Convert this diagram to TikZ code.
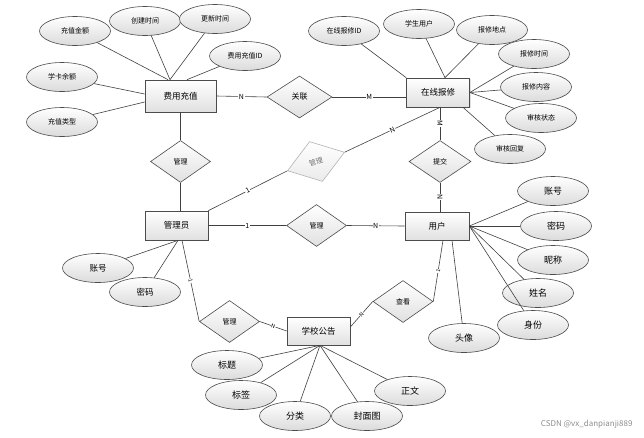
\documentclass[tikz,border=0pt]{standalone}
\usepackage{fontspec}
\setmainfont{Noto Sans CJK SC}
\usetikzlibrary{shapes.geometric,calc,shadows}
\begin{document}
\begin{tikzpicture}[x=1pt,y=-1pt,
  ent/.style={rectangle, draw=black!70, line width=0.7pt, minimum width=63pt, minimum height=29pt, inner sep=0pt,
    top color=white, bottom color=black!12, drop shadow={opacity=0.25, shadow xshift=1pt, shadow yshift=-1pt},
    font=\fontsize{8.5}{9}\selectfont},
  rel/.style={diamond, draw=black!70, line width=0.6pt, minimum width=60pt, minimum height=42pt, inner sep=0pt,
    top color=white, bottom color=black!12, font=\fontsize{7}{8}\selectfont},
  attr/.style={ellipse, draw=black!70, line width=0.6pt, minimum width=71pt, minimum height=29pt, inner sep=0pt,
    top color=white, bottom color=black!14},
  attrS/.style={attr, font=\fontsize{7}{8}\selectfont},
  attrL/.style={attr, font=\fontsize{9}{10}\selectfont},
  ln/.style={draw=black!75, line width=0.6pt},
  lbl/.style={fill=white, inner sep=0.6pt, font=\fontsize{7}{7}\selectfont},
  lbls/.style={fill=white, inner sep=0.4pt, font=\fontsize{5.5}{6}\selectfont}
]
\useasboundingbox (0,0) rectangle (644,437);

% entities
\node[ent, minimum width=71pt, minimum height=32pt] (fy) at (180.5,96) {费用充值};
\node[ent] (zx) at (438,92.5) {在线报修};
\node[ent] (adm) at (176.5,225.5) {管理员};
\node[ent, minimum width=64pt, minimum height=28pt] (yh) at (437,226) {用户};
\node[ent, minimum height=28pt] (gg) at (318.5,331) {学校公告};

% relationships
\node[rel, minimum width=65pt, font=\fontsize{8}{9}\selectfont] (gl) at (299.5,97) {关联};
\node[rel] (gl2) at (180.5,161.5) {管理};
\node[rel, draw=black!30, rotate=18, text=black!55, top color=white, bottom color=black!8] (gd) at (316,161.5) {管理};
\node[rel] (gl3) at (316.5,225.5) {管理};
\node[rel, minimum width=62pt] (tj) at (440,161.5) {提交};
\node[rel] (gl4) at (229.5,321.5) {管理};
\node[rel] (ck) at (403,301.5) {查看};

% attributes of 费用充值
\node[attrS] (f1) at (75,31) {充值金额};
\node[attrS] (f2) at (145,21) {创建时间};
\node[attrS] (f3) at (215,19) {更新时间};
\node[attrS] (f4) at (245,56) {费用充值ID};
\node[attrS] (f5) at (62,77) {学卡余额};
\node[attrS] (f6) at (62,122) {充值类型};

% attributes of 在线报修
\node[attrS] (z1) at (344,31) {在线报修ID};
\node[attrS] (z2) at (419,24) {学生用户};
\node[attrS] (z3) at (492,30) {报修地点};
\node[attrS] (z4) at (534,54) {报修时间};
\node[attrS] (z5) at (536,87) {报修内容};
\node[attrS] (z6) at (541,118) {审核状态};
\node[attrS] (z7) at (510,149) {审核回复};

% attributes of 用户
\node[attrL] (y1) at (553,191) {账号};
\node[attrL] (y2) at (556,226) {密码};
\node[attrL] (y3) at (553,260) {昵称};
\node[attrL] (y4) at (538,293) {姓名};
\node[attrL] (y5) at (533,325) {身份};
\node[attrL] (y6) at (464,338) {头像};

% attributes of 管理员
\node[attr, font=\fontsize{8.5}{9}\selectfont] (a1) at (98,268) {账号};
\node[attr, font=\fontsize{8.5}{9}\selectfont] (a2) at (145,292) {密码};

% attributes of 学校公告
\node[attrL] (g1) at (227,365) {标题};
\node[attrL] (g2) at (241,395) {标签};
\node[attrL] (g3) at (295,416) {分类};
\node[attrL] (g4) at (367,416) {封面图};
\node[attrL] (g5) at (410,391) {正文};

% attribute connectors
\draw[ln] (f1) -- ([xshift=-12.5pt]fy.north);
\draw[ln] (f2) -- ([xshift=-10.5pt]fy.north);
\draw[ln] (f3) -- ([xshift=-10.5pt]fy.north);
\draw[ln] (f4) -- ([xshift=6.5pt]fy.north);
\draw[ln] (f5) -- ([yshift=2pt]fy.west);
\draw[ln] (f6) -- ([yshift=-6pt]fy.west);

\draw[ln] (z1) -- (zx.north west);
\draw[ln] (z2) -- ([xshift=7pt]zx.north);
\draw[ln] (z3) -- ([xshift=7pt]zx.north);
\draw[ln] (z4) -- (zx.east);
\draw[ln] (z5) -- (zx.east);
\draw[ln] (z6) -- (zx.east);
\draw[ln] (z7) -- ([xshift=25pt]zx.south);

\draw[ln] (y1) -- (yh.east);
\draw[ln] (y2) -- (yh.east);
\draw[ln] (y3) -- (yh.east);
\draw[ln] (y4) -- (yh.east);
\draw[ln] (y5) -- (yh.east);
\draw[ln] (y6) -- ([xshift=15pt]yh.south);

\draw[ln] (a1) -- ([xshift=1.5pt]adm.south);
\draw[ln] (a2) -- ([xshift=1.5pt]adm.south);

\draw[ln] (g1) -- ([xshift=1.5pt]gg.south);
\draw[ln] (g2) -- ([xshift=1.5pt]gg.south);
\draw[ln] (g3) -- ([xshift=1.5pt]gg.south);
\draw[ln] (g4) -- ([xshift=1.5pt]gg.south);
\draw[ln] (g5) -- ([xshift=1.5pt]gg.south);

% relationship connectors
\draw[ln] (fy.east) -- node[lbl]{N} (gl.west);
\draw[ln] (gl.east) -- node[lbl]{M} ([yshift=-4.5pt]zx.west);
\draw[ln] (fy.south) -- (gl2.north);
\draw[ln] (gl2.south) -- ([xshift=4pt]adm.north);
\draw[ln] (adm.north east) -- node[lbl, sloped]{1} (gd.west);
\draw[ln] (gd.east) -- node[lbl, sloped]{N} ([xshift=2pt]zx.south);
\draw[ln] ([xshift=2pt]zx.south) -- node[lbl, sloped]{M} (tj.north);
\draw[ln] (tj.south) -- node[lbl, sloped]{N} ([xshift=3pt]yh.north);
\draw[ln] (adm.east) -- node[lbl]{1} (gl3.west);
\draw[ln] (gl3.east) -- node[lbl]{N} (yh.west);
\draw[ln] ([xshift=5.5pt]adm.south) -- node[lbls, sloped]{1} (gl4.west);
\draw[ln] (gl4.east) -- node[lbls, sloped]{N} (gg.west);
\draw[ln] ([yshift=4pt]gg.east) -- node[lbls, sloped]{N} (ck.west);
\draw[ln] (ck.east) -- node[lbls, sloped]{1} ([xshift=6pt]yh.south);

% watermark
\node[text=black!45, font=\fontsize{8}{9}\selectfont, anchor=east] (wm) at (636,424) {CSDN @vx\_danpianji889};
\end{tikzpicture}
\end{document}
